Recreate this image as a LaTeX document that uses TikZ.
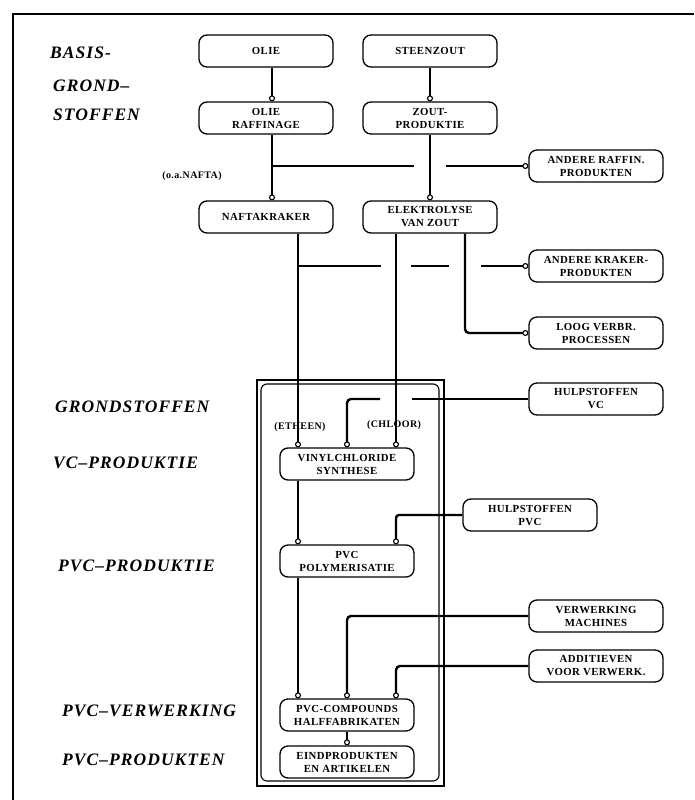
\documentclass[tikz,border=0pt]{standalone}
\usepackage{fontspec}
\setmainfont{Liberation Serif}
\newfontfamily\boxfam{Liberation Serif}[LetterSpace=4]
\newfontfamily\labfam{Liberation Serif}[LetterSpace=6]
\newcommand\boxfont{\boxfam\bfseries\fontsize{10.8}{13}\selectfont}
\newcommand\labfont{\labfam\bfseries\itshape\fontsize{17.5}{20}\selectfont}
\newcommand\smallfont{\boxfam\bfseries\fontsize{10}{12}\selectfont}
\usetikzlibrary{arrows.meta,calc}
\begin{document}
\begin{tikzpicture}[x=1pt,y=-1pt,
  box/.style={draw,line width=1.3pt,rounded corners=8pt,minimum width=134pt,minimum height=32pt,align=center,inner sep=1pt,font=\boxfont},
  lab/.style={anchor=west,font=\labfont,inner sep=0pt},
  conn/.style={line width=2.4pt},
  arr/.style={-{Circle[open,length=6pt,line width=1.1pt]}},
  small/.style={font=\smallfont,inner sep=0pt}]
\useasboundingbox (0,0) rectangle (694,800);
% frame
\draw[line width=1.5pt] (13,800) -- (13,14) -- (694,14);
% container
\node[draw,line width=1.1pt,minimum width=187pt,minimum height=406pt,inner sep=0pt] (cont) at (350.5,583) {};
\node[draw,line width=1.1pt,rounded corners=6pt,minimum width=178pt,minimum height=397pt,inner sep=0pt] (contin) at (350,582.5) {};
% columns
\coordinate (cA) at (272,0);
\coordinate (cB) at (298,0);
\coordinate (cC) at (347,0);
\coordinate (cD) at (396,0);
\coordinate (cE) at (430,0);
\coordinate (cF) at (465,0);
% boxes
\node[box] (olie) at (266,51) {OLIE};
\node[box] (stz) at (430,51) {STEENZOUT};
\node[box] (oraf) at (266,118) {OLIE\\RAFFINAGE};
\node[box] (zprod) at (430,118) {ZOUT-\\PRODUKTIE};
\node[box] (araf) at (596,166) {ANDERE RAFFIN.\\PRODUKTEN};
\node[box] (nafta) at (266,217) {NAFTAKRAKER};
\node[box] (elek) at (430,217) {ELEKTROLYSE\\VAN ZOUT};
\node[box] (akrak) at (596,266) {ANDERE KRAKER-\\PRODUKTEN};
\node[box] (loog) at (596,333) {LOOG VERBR.\\PROCESSEN};
\node[box] (hvc) at (596,399) {HULPSTOFFEN\\VC};
\node[box] (vinyl) at (347,464) {VINYLCHLORIDE\\SYNTHESE};
\node[box] (hpvc) at (530,515) {HULPSTOFFEN\\PVC};
\node[box] (poly) at (347,561) {PVC\\POLYMERISATIE};
\node[box] (verm) at (596,616) {VERWERKING\\MACHINES};
\node[box] (add) at (596,666) {ADDITIEVEN\\VOOR VERWERK.};
\node[box] (comp) at (347,715) {PVC-COMPOUNDS\\HALFFABRIKATEN};
\node[box] (eind) at (347,762) {EINDPRODUKTEN\\EN ARTIKELEN};
% connectors
\draw[conn,arr] (olie.south -| cA) -- (oraf.north -| cA);
\draw[conn,arr] (stz.south) -- (zprod.north);
\draw[conn,arr] (oraf.south -| cA) -- (nafta.north -| cA);
\draw[conn,arr] (zprod.south) -- (elek.north);
\coordinate (rf) at (araf.west -| cA);
\draw[conn] (rf) -- ($(araf.west -| cE)+(-16,0)$);
\draw[conn,arr] ($(araf.west -| cE)+(16,0)$) -- (araf.west);
\coordinate (kf) at (akrak.west -| cB);
\draw[conn] (kf) -- ($(akrak.west -| cD)+(-15,0)$);
\draw[conn] ($(akrak.west -| cD)+(15,0)$) -- ($(akrak.west -| cF)+(-16,0)$);
\draw[conn,arr] ($(akrak.west -| cF)+(16,0)$) -- (akrak.west);
\draw[conn,arr] (nafta.south -| cB) -- (vinyl.north -| cB);
\draw[conn,arr] (elek.south -| cD) -- (vinyl.north -| cD);
\draw[conn,arr,rounded corners=4pt] (elek.south -| cF) |- (loog.west);
\draw[conn] (hvc.west) -- ($(hvc.west -| cD)+(16,0)$);
\draw[conn,arr,rounded corners=4pt] ($(hvc.west -| cD)+(-16,0)$) -| (vinyl.north);
\draw[conn,arr] (vinyl.south -| cB) -- (poly.north -| cB);
\draw[conn,arr,rounded corners=3pt] (hpvc.west) -| (poly.north -| cD);
\draw[conn,arr] (poly.south -| cB) -- (comp.north -| cB);
\draw[conn,arr,rounded corners=4pt] (verm.west) -| (comp.north);
\draw[conn,arr,rounded corners=4pt] (add.west) -| (comp.north -| cD);
\draw[conn,arr] (comp.south) -- (eind.north);
% small labels
\node[small] (naftalbl) at (192,176) {(o.a.NAFTA)};
\node[small] (etheen) at (300,427) {(ETHEEN)};
\node[small] (chloor) at (394,425) {(CHLOOR)};
% left labels
\node[lab] (l1) at (50,53) {BASIS-};
\node[lab] (l2) at (53,86) {GROND–};
\node[lab] (l3) at (53,115) {STOFFEN};
\node[lab] (l4) at (55,407) {GRONDSTOFFEN};
\node[lab] (l5) at (53,463) {VC–PRODUKTIE};
\node[lab] (l6) at (58,566) {PVC–PRODUKTIE};
\node[lab] (l7) at (62,711) {PVC–VERWERKING};
\node[lab] (l8) at (62,760) {PVC–PRODUKTEN};
\end{tikzpicture}
\end{document}
